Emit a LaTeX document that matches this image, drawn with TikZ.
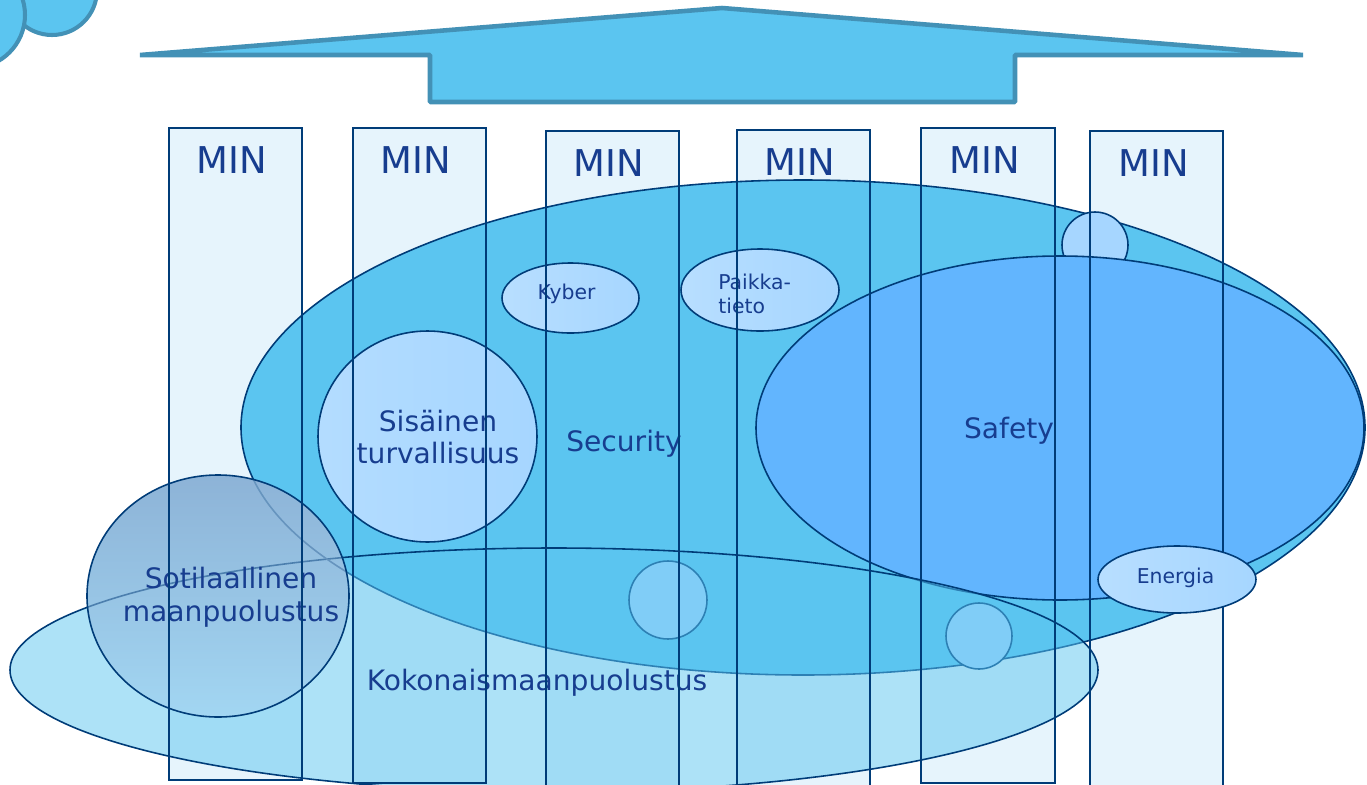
\documentclass[tikz,border=0pt]{standalone}
\usepackage{fontspec}
\setmainfont{DejaVu Sans}
\usepackage{xcolor}
\usepackage{tikz}
\usetikzlibrary{shapes.geometric}

\definecolor{skyfill}{HTML}{5BC5F0}
\definecolor{skyline}{HTML}{4391B6}
\definecolor{colfill}{HTML}{E6F4FC}
\definecolor{navy}{HTML}{003C78}
\definecolor{safefill}{HTML}{62B5FE}
\definecolor{bubble}{HTML}{A6D6FF}
\definecolor{txt}{HTML}{173D8F}
\definecolor{armytop}{HTML}{8DB3D7}
\definecolor{armymid}{HTML}{C3C9D6}
\definecolor{armybot}{HTML}{A2D6F2}
\definecolor{armyedge}{HTML}{4C7FAE}

\tikzset{
    pillar/.style={draw=navy, line width=1.1pt},
    zone/.style={draw=navy, line width=0.9pt},
    bigtxt/.style={text=txt, font=\fontsize{16}{18.7}\selectfont, align=center, inner sep=0pt},
    smalltxt/.style={text=txt, font=\fontsize{11.6}{13.6}\selectfont, inner sep=0pt},
    mintxt/.style={text=txt, font=\fontsize{21}{24}\selectfont, inner sep=0pt}
}

\begin{document}
\begin{tikzpicture}[x=0.02cm, y=-0.02cm]
        \useasboundingbox (0,0) rectangle (1367,785);
        \clip (0,0) rectangle (1367,785);

        % cloud corner
        \draw[skyline, fill=skyfill, line width=2.3pt] (52,-10) circle [radius=45];
        \draw[skyline, fill=skyfill, line width=2.3pt] (-28,15) circle [radius=53];

        % big arrow
        \draw[skyline, fill=skyfill, line width=2.6pt, line join=bevel]
            (140,55) -- (722,8) -- (1303,55) -- (1015,55) -- (1015,102)
            -- (430,102) -- (430,55) -- cycle;

        % pillars (fill)
        \fill[colfill] (169,128) rectangle (302,780);
        \fill[colfill] (353,128) rectangle (486,783);
        \fill[colfill] (546,131) rectangle (679,790);
        \fill[colfill] (737,130) rectangle (870,790);
        \fill[colfill] (921,128) rectangle (1055,783);
        \fill[colfill] (1090,131) rectangle (1223,790);

        % security
        \draw[zone, fill=skyfill] (803,427.5) ellipse [x radius=562, y radius=247.5];
        \draw[zone, fill=bubble] (1095,245) circle [radius=33];

        % safety
        \draw[zone, fill=safefill] (1060,428) ellipse [x radius=304, y radius=172];

        % bubbles in security
        \draw[zone, left color=bubble!80!white, right color=bubble] (570.5,298) ellipse [x radius=68.5, y radius=35];
        \draw[zone, left color=bubble!80!white, right color=bubble] (760,290) ellipse [x radius=79, y radius=41];
        \draw[zone, left color=bubble!85!white, right color=bubble] (427.5,436.5) ellipse [x radius=109.5, y radius=105.5];
        \draw[zone, fill=bubble] (668,600) circle [radius=39];
        \draw[zone, fill=bubble] (979,636) circle [radius=33];

        % kokonaismaanpuolustus
        \fill[skyfill, fill opacity=0.5] (554,670) ellipse [x radius=544, y radius=122];
        \draw[zone] (554,670) ellipse [x radius=544, y radius=122];

        % sotilaallinen (edges behind it show through)
        \shade[top color=armytop, middle color=armymid, bottom color=armybot]
            (218,596) ellipse [x radius=131, y radius=121];
        \begin{scope}
            \clip (218,596) ellipse [x radius=131, y radius=121];
            \draw[armyedge, line width=0.9pt] (554,670) ellipse [x radius=544, y radius=122];
            \draw[armyedge!60!armytop, line width=0.9pt] (803,427.5) ellipse [x radius=562, y radius=247.5];
        \end{scope}
        \draw[zone] (218,596) ellipse [x radius=131, y radius=121];

        % labels
        \node[bigtxt, anchor=base] (sec) at (624,451) {Security};
        \node[bigtxt, anchor=base] (saf) at (1009,438) {Safety};
        \node[bigtxt] (sis) at (438,437) {Sisäinen\\turvallisuus};
        \node[bigtxt] (sot) at (231,597) {Sotilaallinen\\maanpuolustus};
        \node[bigtxt, anchor=base] (kok) at (537,690) {Kokonaismaanpuolustus};
        \node[smalltxt, anchor=base] (kyb) at (566.5,299) {Kyber};
        \node[smalltxt, anchor=west, align=left] (pai) at (718,294) {Paikka-\\tieto};

        % pillars (outline)
        \draw[pillar] (169,128) rectangle (302,780);
        \draw[pillar] (353,128) rectangle (486,783);
        \draw[pillar] (546,131) rectangle (679,790);
        \draw[pillar] (737,130) rectangle (870,790);
        \draw[pillar] (921,128) rectangle (1055,783);
        \draw[pillar] (1090,131) rectangle (1223,790);

        \node[mintxt] (min1) at (232,160) {MIN};
        \node[mintxt] (min2) at (416,160) {MIN};
        \node[mintxt] (min3) at (609,163) {MIN};
        \node[mintxt] (min4) at (800,162) {MIN};
        \node[mintxt] (min5) at (985,160) {MIN};
        \node[mintxt] (min6) at (1154,163) {MIN};

        % energia on top
        \draw[zone, left color=bubble!80!white, right color=bubble] (1177,579.5) ellipse [x radius=79, y radius=33.5];
        \node[smalltxt, anchor=base] (ene) at (1175.5,583) {Energia};
    \end{tikzpicture}
\end{document}
